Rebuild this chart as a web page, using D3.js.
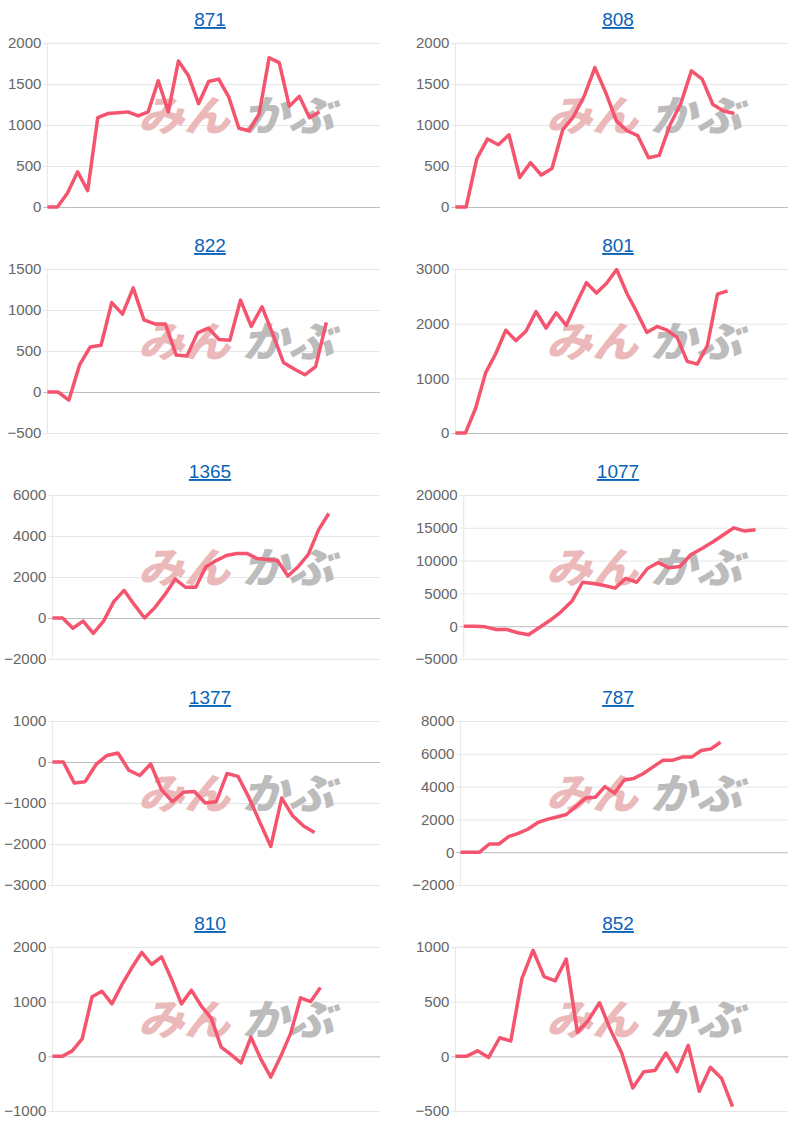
<!DOCTYPE html>
<html><head><meta charset="utf-8">
<script src="https://cdn.jsdelivr.net/npm/d3@7"></script>
<style>body{margin:0;background:#fff;font-family:"Liberation Sans",Arial,sans-serif}</style>
</head><body><svg id="c" width="809" height="1125"></svg>
<script>
var titles = ["871","808","822","801","1365","1077","1377","787","810","852"];
var s871 = [0,0,170,430,200,1090,1140,1150,1160,1110,1160,1540,1160,1780,1600,1260,1530,1560,1340,960,930,1130,1820,1760,1230,1350,1090,1160];
var s808 = [0,0,590,830,760,880,360,540,390,470,940,1100,1350,1700,1400,1050,930,870,600,630,1000,1260,1660,1560,1250,1170,1140];
var s822 = [0,0,-100,330,550,570,1090,950,1270,880,830,830,450,440,720,780,640,630,1120,800,1040,710,360,280,210,310,850];
var s801 = [0,0,450,1100,1450,1880,1690,1860,2220,1920,2200,1970,2370,2750,2560,2740,2990,2560,2210,1840,1950,1880,1750,1310,1260,1600,2540,2600];
var s1365 = [0,0,-500,-150,-750,-150,800,1350,650,0,500,1150,1900,1500,1500,2500,2800,3050,3150,3150,2900,2850,2800,2050,2500,3100,4300,5100];
var s1077 = [0,0,-100,-500,-500,-1000,-1300,-200,900,2200,3800,6700,6500,6200,5800,7300,6700,8800,9700,8900,9100,10900,11800,12800,13900,15000,14500,14700];
var s1377 = [0,0,-510,-480,-60,160,220,-200,-330,-50,-680,-970,-740,-720,-1000,-970,-280,-350,-870,-1470,-2060,-880,-1310,-1560,-1720];
var s787 = [0,0,0,500,500,950,1150,1400,1800,2000,2150,2300,2800,3300,3350,4000,3600,4400,4500,4800,5200,5600,5600,5800,5800,6200,6300,6700];
var s810 = [0,0,100,320,1090,1190,960,1310,1620,1900,1680,1820,1410,960,1210,920,700,170,30,-120,350,-50,-380,0,420,1070,1000,1260];
var s852 = [0,0,50,-10,170,140,710,970,730,690,890,220,330,490,240,30,-290,-140,-130,30,-140,100,-320,-100,-200,-460];
var series = [s871,s808,s822,s801,s1365,s1077,s1377,s787,s810,s852];
var yMin = [0,0,-500,0,-2000,-5000,-3000,-2000,-1000,-500];
var yMax = [2000,2000,1500,3000,6000,20000,1000,8000,2000,1000];
var yStep = [500,500,500,1000,2000,5000,1000,2000,1000,500];
var slots = [34,32,32,34,33,31,31,35,34,31];

var svg = d3.select("#c");
series.forEach(function(data, i) {
  var col = i % 2, row = Math.floor(i / 2);
  var px = col * 408, py = row * 226;
  var ticks = d3.range(yMin[i], yMax[i] + 1, yStep[i]);
  var g = svg.append("g").attr("transform", "translate(" + px + "," + py + ")");
  var maxW = 0;
  ticks.forEach(function(t) {
    var tt = g.append("text").style("font-size", "15px").text(t);
    maxW = Math.max(maxW, tt.node().getComputedTextLength()); tt.remove();
  });
  var left = maxW + 14, right = 380, top = 43, bottom = 207;
  var x = d3.scaleLinear().domain([0, slots[i] - 1]).range([left, right]);
  var y = d3.scaleLinear().domain([yMin[i], yMax[i]]).range([bottom, top]);

  g.append("text").attr("x", 210).attr("y", 26).attr("text-anchor", "middle")
    .style("font-size", "19px").style("fill", "#0b63b8").style("text-decoration", "underline")
    .text(titles[i]);

  var ax = g.append("g").attr("transform", "translate(" + left + ",0)")
    .call(d3.axisLeft(y).tickValues(ticks).tickSize(-(right - left)).tickPadding(6).tickFormat(d3.format("d")));
  ax.select(".domain").remove();
  ax.selectAll(".tick line").attr("stroke", function(d){ return d === 0 ? "#bdbdbd" : "#e6e6e6"; }).attr("x1", -4);
  ax.selectAll(".tick text").style("font-size", "15px").style("fill", "#666").attr("font-family", "'Liberation Sans',Arial,sans-serif");
  g.append("line").attr("x1", left).attr("x2", left).attr("y1", top).attr("y2", bottom).attr("stroke", "#e6e6e6");

  // watermark
  var wm = g.append("g").attr("transform", "translate(130," + (top + 88) + ") skewX(-15)");
  wm.append("text").attr("x", 8).attr("y", 0).style("font-size", "42px").style("font-weight", "900")
    .attr("textLength", 92).attr("lengthAdjust", "spacingAndGlyphs")
    .style("fill", "#ebb9b9").attr("font-family", "'Noto Sans CJK JP'").text("みん");
  wm.append("text").attr("x", 112).attr("y", 0).style("font-size", "42px").style("font-weight", "900")
    .attr("textLength", 92).attr("lengthAdjust", "spacingAndGlyphs")
    .style("fill", "#bcbcbc").attr("font-family", "'Noto Sans CJK JP'").text("かぶ");

  g.append("path").datum(data)
    .attr("d", d3.line().x(function(d, k){ return x(k); }).y(function(d){ return y(d); }))
    .attr("fill", "none").attr("stroke", "#f5546e").attr("stroke-width", 3.5).attr("stroke-linejoin", "round");
});
</script></body></html>
